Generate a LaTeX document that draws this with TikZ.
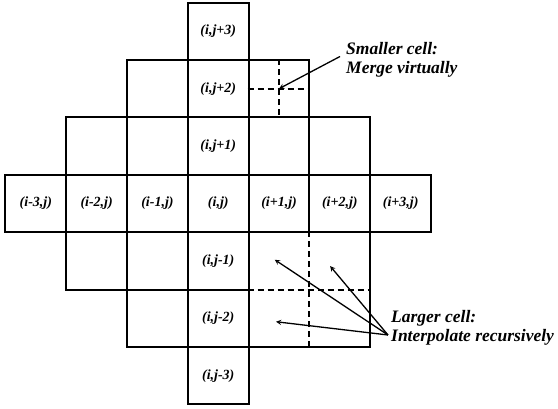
\documentclass[tikz,border=0pt]{standalone}
\usepackage{fontspec}
\setmainfont{Liberation Serif}
\usetikzlibrary{arrows,positioning,calc}

\begin{document}
\begin{tikzpicture}[
        x=60.8pt, y=57.4pt,
        cell/.style={rectangle, draw=black, line width=1.9pt, minimum width=60.8pt, minimum height=57.4pt, inner sep=0pt, font=\fontsize{14}{16}\selectfont\bfseries\itshape},
        bigcell/.style={cell, minimum width=121.6pt, minimum height=114.8pt},
        split/.style={line width=1.9pt, dash pattern=on 6pt off 4pt},
        note/.style={align=left, inner sep=0pt, font=\fontsize{17.5}{19}\selectfont\bfseries\itshape},
        arrow/.style={->, line width=1.3pt, >=stealth}
    ]
    \useasboundingbox (-218.25pt,-205.5pt) rectangle (339.75pt,203.5pt);

    % refined and coarse cells
    \node[cell] (smallcell) at (1,2) {};
    \node[bigcell] (bigcell) at (1.5,-1.5) {};
    \draw[split] (smallcell.north) -- (smallcell.south);
    \draw[split] (smallcell.west) -- (smallcell.east);
    \draw[split] (bigcell.north) -- (bigcell.south);
    \draw[split] (bigcell.west) -- (bigcell.east);

    \node[cell] (ijp3) at (0,3) {(i,j+3)};

    \node[cell] (im1jp2) at (-1,2) {};
    \node[cell] (ijp2) at (0,2) {(i,j+2)};

    \node[cell] (im2jp1) at (-2,1) {};
    \node[cell] (im1jp1) at (-1,1) {};
    \node[cell] (ijp1) at (0,1) {(i,j+1)};
    \node[cell] (ip1jp1) at (1,1) {};
    \node[cell] (ip2jp1) at (2,1) {};

    \node[cell] (im3j) at (-3,0) {(i-3,j)};
    \node[cell] (im2j) at (-2,0) {(i-2,j)};
    \node[cell] (im1j) at (-1,0) {(i-1,j)};
    \node[cell] (ij) at (0,0) {(i,j)};
    \node[cell] (ip1j) at (1,0) {(i+1,j)};
    \node[cell] (ip2j) at (2,0) {(i+2,j)};
    \node[cell] (ip3j) at (3,0) {(i+3,j)};

    \node[cell] (im2jm1) at (-2,-1) {};
    \node[cell] (im1jm1) at (-1,-1) {};
    \node[cell] (ijm1) at (0,-1) {(i,j-1)};

    \node[cell] (im1jm2) at (-1,-2) {};
    \node[cell] (ijm2) at (0,-2) {(i,j-2)};

    \node[cell] (ijm3) at (0,-3) {(i,j-3)};

    % callouts
    \node[note, anchor=west] (smallnote) at (127.75pt,144pt) {Smaller cell:\\Merge virtually};
    \node[note, anchor=west] (largenote) at (172.75pt,-124pt) {Larger cell:\\Interpolate recursively};

    \coordinate (quadNW) at (0.93,-0.98);
    \coordinate (quadNE) at (1.84,-1.09);
    \coordinate (quadSW) at (0.95,-2.06);

    \draw[arrow] ([xshift=-6pt,yshift=3pt]smallnote.west) -- (smallcell.center);
    \draw[arrow] ([xshift=-3pt,yshift=-7.5pt]largenote.west) -- (quadNW);
    \draw[arrow] ([xshift=-3pt,yshift=-7.5pt]largenote.west) -- (quadNE);
    \draw[arrow] ([xshift=-3pt,yshift=-7.5pt]largenote.west) -- (quadSW);

\end{tikzpicture}
\end{document}
